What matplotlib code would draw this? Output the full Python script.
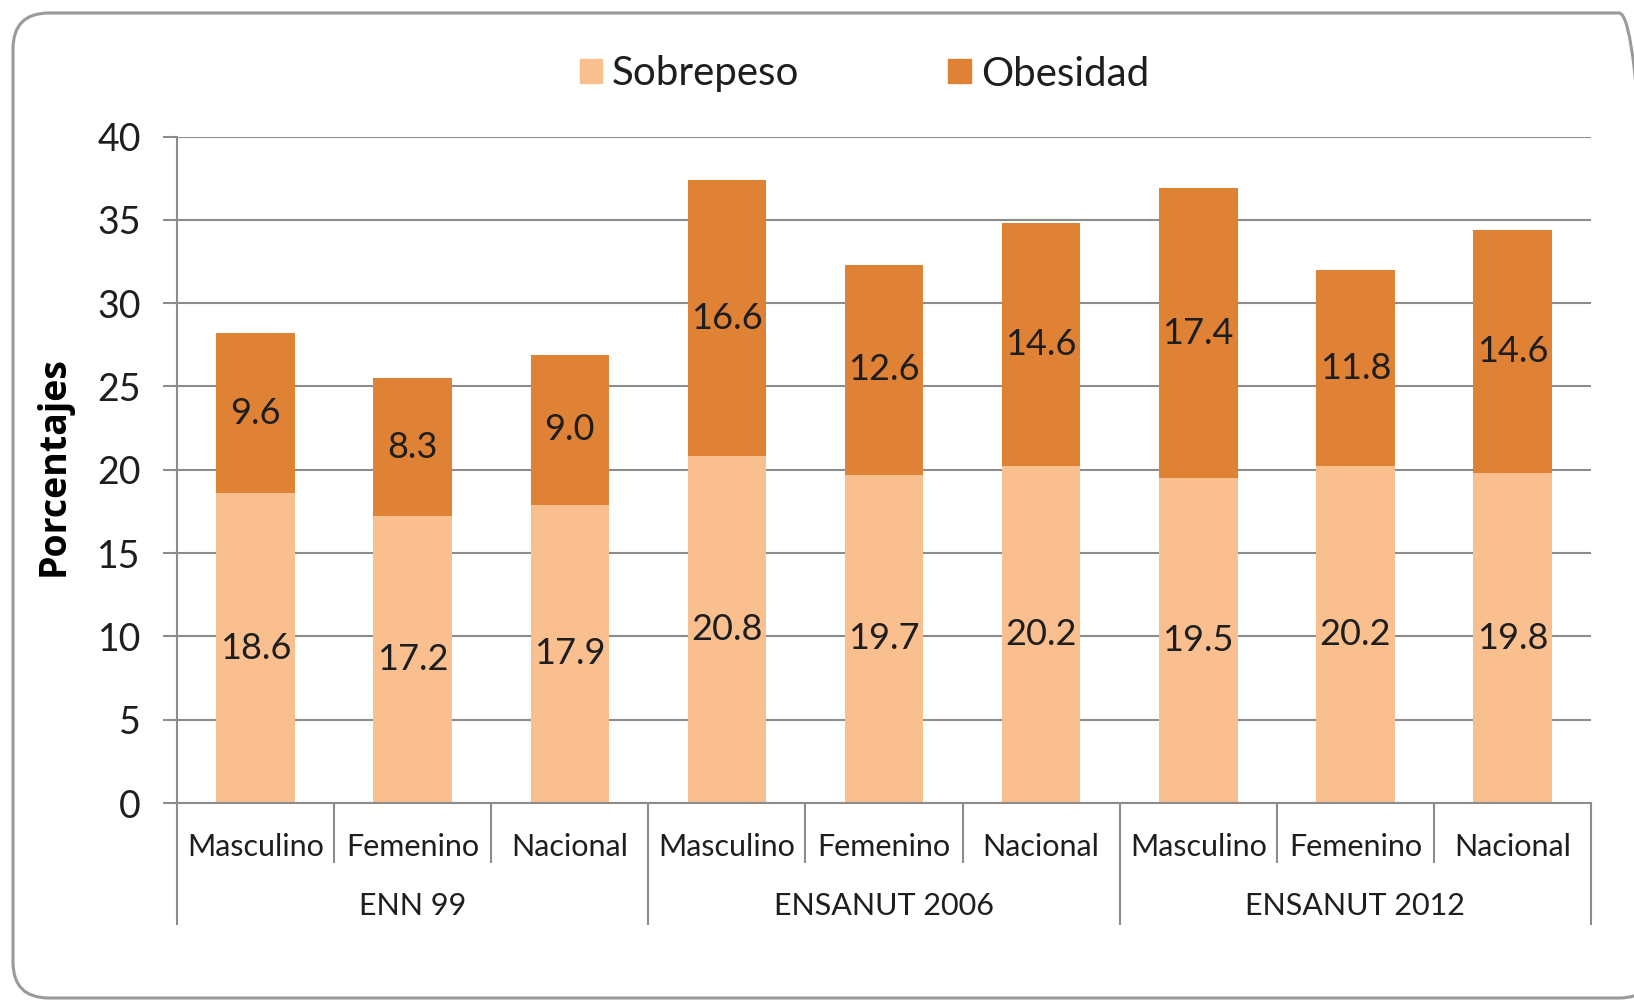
import numpy as np
import matplotlib
matplotlib.use('Agg')
import matplotlib.pyplot as plt
import matplotlib.transforms as mtransforms
from matplotlib.patches import FancyBboxPatch, Patch

plt.rcParams['font.family'] = ['Lato', 'DejaVu Sans']

categories = ['Masculino', 'Femenino', 'Nacional'] * 3
groups = ['ENN 99', 'ENSANUT 2006', 'ENSANUT 2012']
sobrepeso = [18.6, 17.2, 17.9, 20.8, 19.7, 20.2, 19.5, 20.2, 19.8]
obesidad = [9.6, 8.3, 9.0, 16.6, 12.6, 14.6, 17.4, 11.8, 14.6]
yticks = [0, 5, 10, 15, 20, 25, 30, 35, 40]

C_SOB = '#F9BF8F'
C_OBE = '#E08236'
GRID = '#8c8c8c'
TXT = '#1e1e1e'

W, H = 1634, 1000
fig = plt.figure(figsize=(W / 100, H / 100), dpi=100)

# rounded frame
frame = FancyBboxPatch((13, 2), 1655 - 13, 987 - 2,
                       boxstyle='round,pad=0,rounding_size=36',
                       transform=mtransforms.IdentityTransform(),
                       facecolor='none', edgecolor='#9a9a9a', lw=2.2)
fig.patches.append(frame)

left, right, top, bottom = 177, 1591, 136.5, 803
ax = fig.add_axes([left / W, 1 - bottom / H, (right - left) / W, (bottom - top) / H])

x = np.arange(len(categories))
b1 = ax.bar(x, sobrepeso, width=0.5, color=C_SOB, zorder=2, label='Sobrepeso')
b2 = ax.bar(x, obesidad, bottom=sobrepeso, width=0.5, color=C_OBE, zorder=2, label='Obesidad')
ax.bar_label(b1, labels=[f'{v:.1f}' for v in sobrepeso], label_type='center',
             fontsize=26, color=TXT)
ax.bar_label(b2, labels=[f'{v:.1f}' for v in obesidad], label_type='center',
             fontsize=26, color=TXT)

ax.set_xlim(-0.5, len(categories) - 0.5)
ax.set_ylim(0, 40)
ax.set_yticks(yticks)
ax.yaxis.grid(True, color=GRID, lw=1.5, zorder=0)
ax.set_axisbelow(True)
for s in ['top', 'right']:
    ax.spines[s].set_visible(False)
for s in ['left', 'bottom']:
    ax.spines[s].set_color(GRID)
    ax.spines[s].set_linewidth(1.5)
ax.tick_params(axis='y', length=10, width=1.5, color=GRID, pad=16,
               labelsize=27, labelcolor=TXT)
ax.set_xticks([])

trans = mtransforms.blended_transform_factory(ax.transData, ax.transAxes)
ah = bottom - top
cat_y = -(847 - bottom) / ah
grp_y = -(906 - bottom) / ah
cat_div = -(863 - bottom) / ah
grp_div = -(925 - bottom) / ah

for i, c in enumerate(categories):
    ax.text(i, cat_y, c, transform=trans, ha='center', va='center',
            fontsize=22, color=TXT, clip_on=False)
for k in range(len(categories) + 1):
    xb = k - 0.5
    yend = grp_div if k % 3 == 0 else cat_div
    ax.plot([xb, xb], [0, yend], transform=trans, color=GRID, lw=1.5,
            clip_on=False, solid_capstyle='butt')
for g, name in enumerate(groups):
    ax.text(3 * g + 1, grp_y, name, transform=trans, ha='center', va='center',
            fontsize=22, color=TXT, clip_on=False)

fig.text(54 / W, 1 - 466 / H, 'Porcentajes', rotation=90, fontweight='bold',
         fontsize=27, va='center', ha='center', color='black',
         family=['Open Sans', 'DejaVu Sans'])

fig.legend(handles=[Patch(color=C_SOB, label='Sobrepeso'),
                    Patch(color=C_OBE, label='Obesidad')],
           loc='center', bbox_to_anchor=(0.529, 1 - 74 / H), ncol=2,
           frameon=False, fontsize=29, handlelength=0.55, handleheight=0.55,
           handletextpad=0.25, columnspacing=3.7, labelcolor=TXT)

fig.savefig('out.png', dpi=100)
